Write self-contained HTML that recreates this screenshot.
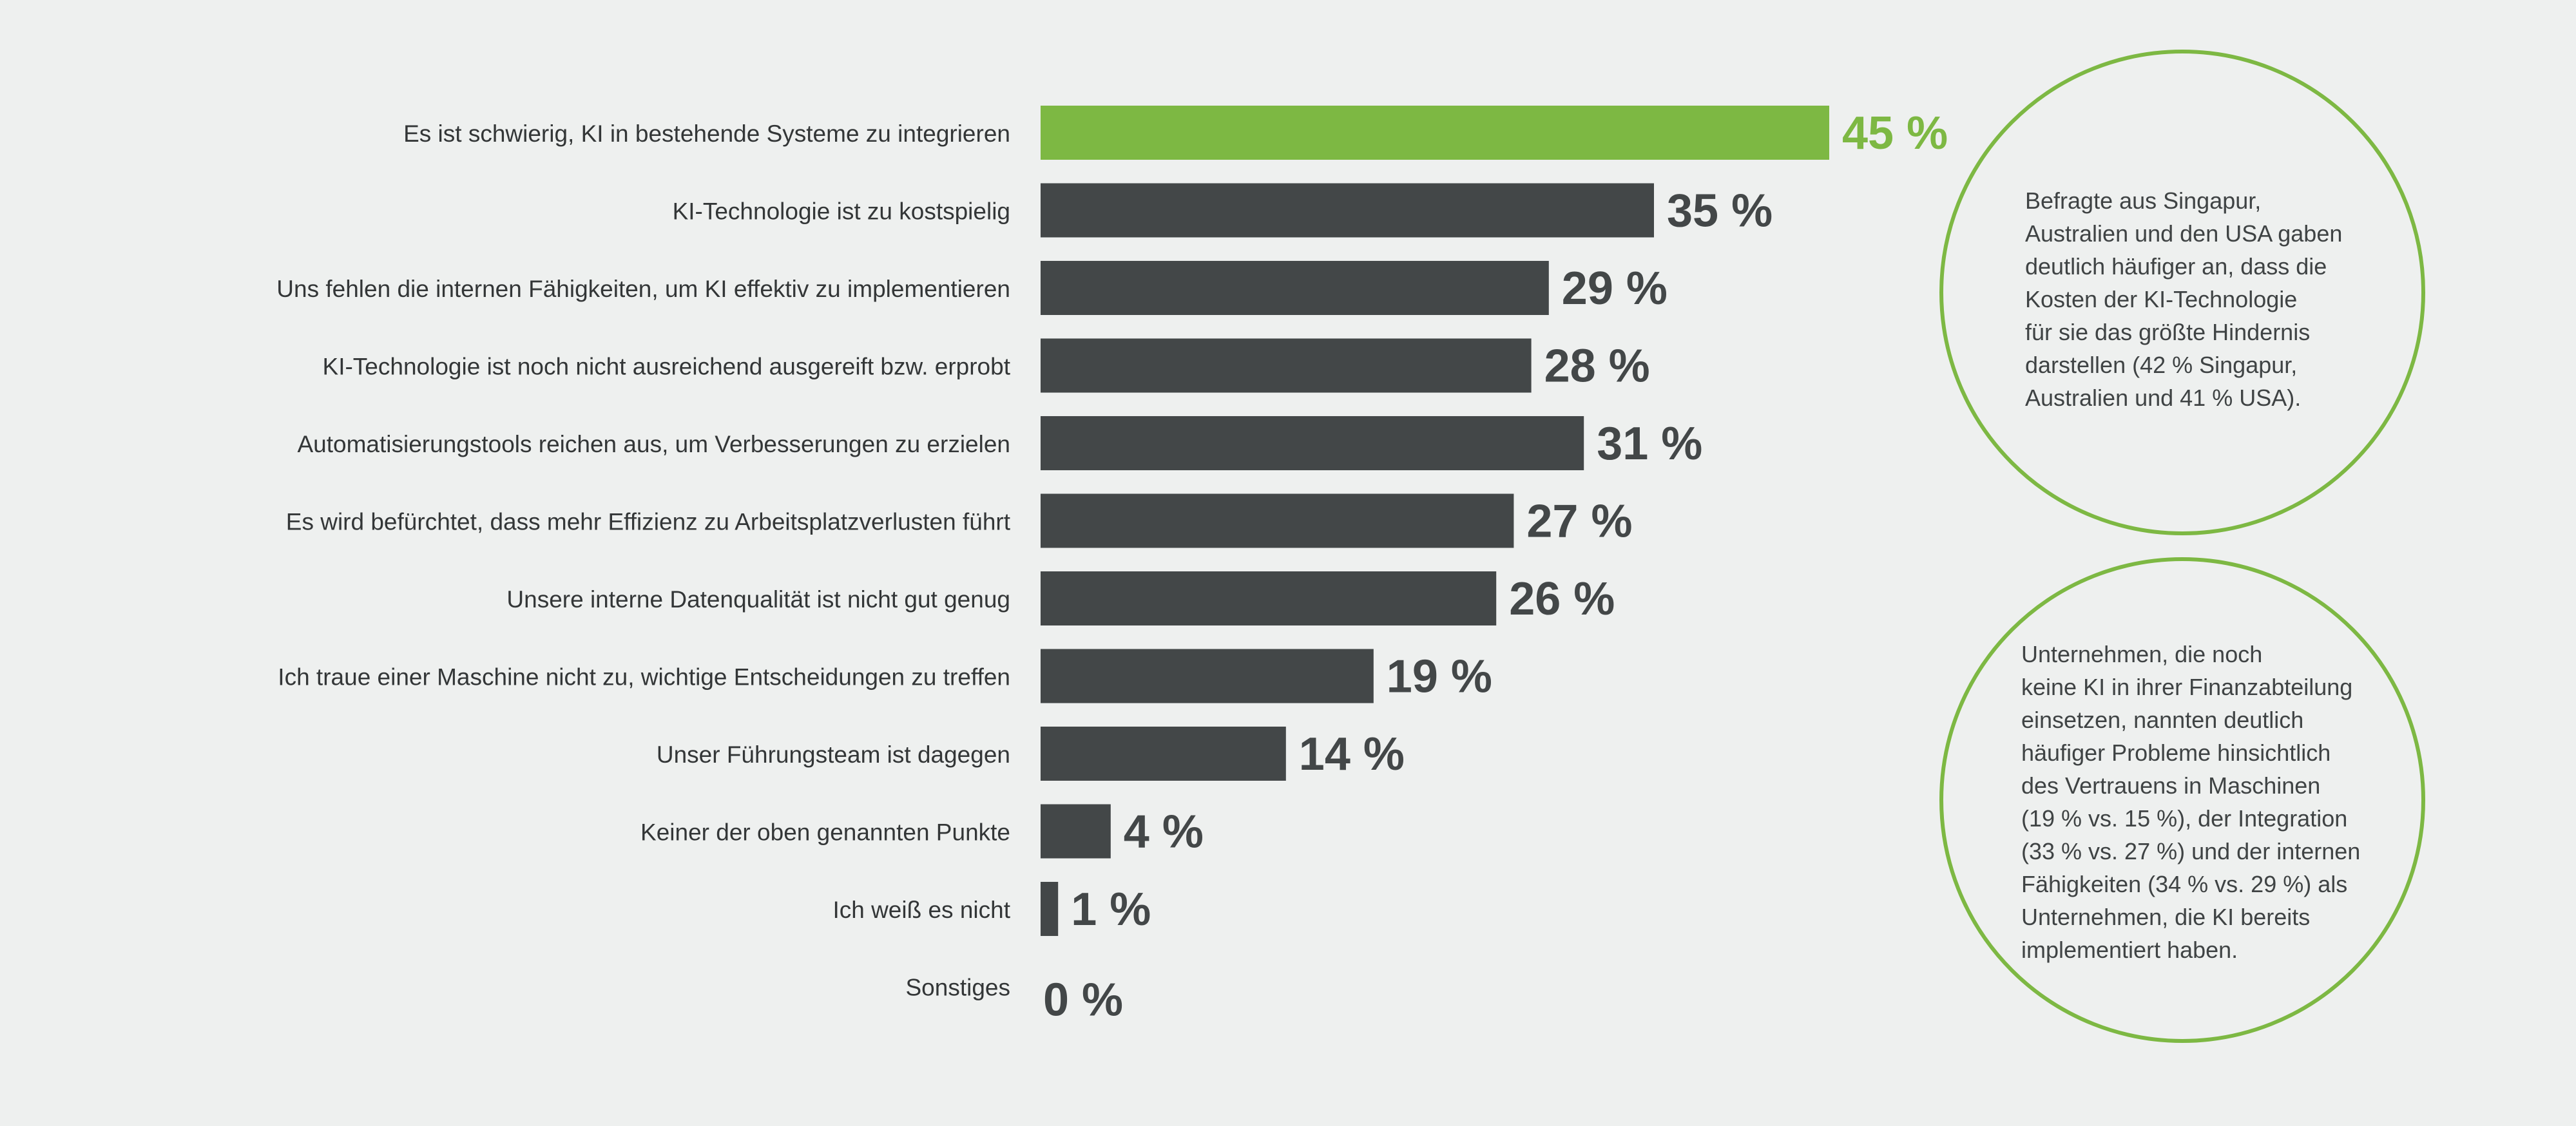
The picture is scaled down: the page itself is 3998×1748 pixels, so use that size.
<!DOCTYPE html>
<html><head><meta charset="utf-8"><style>
html,body{margin:0;padding:0;background:#eef0ef;}
svg{display:block;}
</style></head><body>
<svg id="chart" width="3998" height="1748" viewBox="0 0 3998 1748" xmlns="http://www.w3.org/2000/svg">
<rect x="0" y="0" width="3998" height="1748" fill="#eef0ef"/>
<g id="bars"></g>
<g id="labels"></g>
<g id="values"></g>
<g>
<circle cx="3387" cy="454" r="374" fill="none" stroke="#7db843" stroke-width="6"/>
<text x="3143" y="324" font-family="Liberation Sans, sans-serif" font-size="36" fill="#3f4344">
<tspan x="3143" dy="0">Befragte aus Singapur,</tspan>
<tspan x="3143" dy="51">Australien und den USA gaben</tspan>
<tspan x="3143" dy="51">deutlich häufiger an, dass die</tspan>
<tspan x="3143" dy="51">Kosten der KI-Technologie</tspan>
<tspan x="3143" dy="51">für sie das größte Hindernis</tspan>
<tspan x="3143" dy="51">darstellen (42 % Singapur,</tspan>
<tspan x="3143" dy="51">Australien und 41 % USA).</tspan>
</text></g>
<g>
<circle cx="3387" cy="1242" r="374" fill="none" stroke="#7db843" stroke-width="6"/>
<text x="3137" y="1028" font-family="Liberation Sans, sans-serif" font-size="36" fill="#3f4344">
<tspan x="3137" dy="0">Unternehmen, die noch</tspan>
<tspan x="3137" dy="51">keine KI in ihrer Finanzabteilung</tspan>
<tspan x="3137" dy="51">einsetzen, nannten deutlich</tspan>
<tspan x="3137" dy="51">häufiger Probleme hinsichtlich</tspan>
<tspan x="3137" dy="51">des Vertrauens in Maschinen</tspan>
<tspan x="3137" dy="51">(19 % vs. 15 %), der Integration</tspan>
<tspan x="3137" dy="51">(33 % vs. 27 %) und der internen</tspan>
<tspan x="3137" dy="51">Fähigkeiten (34 % vs. 29 %) als</tspan>
<tspan x="3137" dy="51">Unternehmen, die KI bereits</tspan>
<tspan x="3137" dy="51">implementiert haben.</tspan>
</text></g>
</svg>
<script>
const categories = ["Es ist schwierig, KI in bestehende Systeme zu integrieren","KI-Technologie ist zu kostspielig","Uns fehlen die internen Fähigkeiten, um KI effektiv zu implementieren","KI-Technologie ist noch nicht ausreichend ausgereift bzw. erprobt","Automatisierungstools reichen aus, um Verbesserungen zu erzielen","Es wird befürchtet, dass mehr Effizienz zu Arbeitsplatzverlusten führt","Unsere interne Datenqualität ist nicht gut genug","Ich traue einer Maschine nicht zu, wichtige Entscheidungen zu treffen","Unser Führungsteam ist dagegen","Keiner der oben genannten Punkte","Ich weiß es nicht","Sonstiges"];
const values = [45,35,29,28,31,27,26,19,14,4,1,0];
const highlight = [true,false,false,false,false,false,false,false,false,false,false,false];

const NS = "http://www.w3.org/2000/svg";
const x0 = 1615, pxPer = 27.2;
const yTop = 164, pitch = 120.5, barH = 84;
function xScale(v){ return x0 + v*pxPer; }
function yScale(i){ return yTop + i*pitch; }
const gB = document.getElementById('bars'), gL = document.getElementById('labels'), gV = document.getElementById('values');
categories.forEach((c,i)=>{
  const v = values[i];
  const col = highlight[i] ? "#7db843" : "#434748";
  const y = yScale(i);
  if (v > 0) {
    const r = document.createElementNS(NS,'rect');
    r.setAttribute('x', x0); r.setAttribute('y', y);
    r.setAttribute('width', xScale(v)-x0); r.setAttribute('height', barH);
    r.setAttribute('fill', col);
    
    
    gB.appendChild(r);
  }
  const t = document.createElementNS(NS,'text');
  t.setAttribute('x', 1568); t.setAttribute('y', y + barH/2 + 14);
  t.setAttribute('text-anchor','end');
  t.setAttribute('font-family','Liberation Sans, sans-serif');
  t.setAttribute('font-size','37'); t.setAttribute('fill','#333637');
  t.textContent = c;
  
  
  gL.appendChild(t);
  const vt = document.createElementNS(NS,'text');
  vt.setAttribute('x', v > 0 ? xScale(v) + 20 : x0 + 4);
  vt.setAttribute('y', y + barH/2 + (v > 0 ? 25 : 45));
  vt.setAttribute('font-family','Liberation Sans, sans-serif');
  vt.setAttribute('font-weight','bold');
  vt.setAttribute('font-size','72'); vt.setAttribute('fill', col);
  vt.textContent = v + " %";
  
  
  gV.appendChild(vt);
});
</script>
</body></html>
